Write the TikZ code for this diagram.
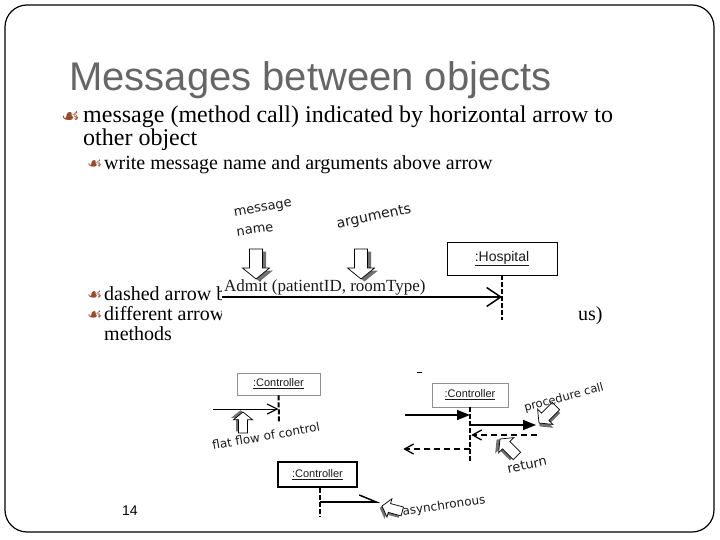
\documentclass[tikz,border=0pt]{standalone}
\usepackage{fontspec}
\setmainfont{Liberation Serif}
\newfontfamily\arialfont{Liberation Sans}
\newfontfamily\symfont{DejaVu Sans}
\usetikzlibrary{arrows.meta,positioning,calc}

\definecolor{titlegray}{HTML}{666666}
\definecolor{bulletbrown}{HTML}{9A4A2E}
\definecolor{boxgray}{HTML}{909090}
\definecolor{shadegray}{HTML}{707070}
\definecolor{inkgray}{HTML}{1A1A1A}

\tikzset{
  dtitle/.style={anchor=base west, inner sep=0pt, text=titlegray, font=\arialfont\fontsize{40}{40}\selectfont},
  dbody/.style={anchor=base west, inner sep=0pt, font=\fontsize{24}{24}\selectfont},
  dsub/.style={anchor=base west, inner sep=0pt, font=\fontsize{20}{20}\selectfont},
  dbullet/.style={anchor=base west, inner sep=0pt, text=bulletbrown, font=\symfont\fontsize{21}{21}\selectfont},
  dsubbullet/.style={dbullet, font=\symfont\fontsize{17}{17}\selectfont},
  dobj/.style={draw=boxgray, line width=0.8pt, fill=white, inner sep=0pt, text=inkgray, font=\arialfont\fontsize{11}{11}\selectfont},
  dobjthick/.style={dobj, draw=black, line width=2.6pt},
  dlife/.style={line width=2.2pt, dash pattern=on 5pt off 2pt},
  dcall/.style={line width=1.2pt, -{Straight Barb[length=14pt, width=19pt, line width=1.5pt]}},
  dflat/.style={line width=1pt, -{Straight Barb[length=10pt, width=10pt, line width=1.2pt]}},
  dproc/.style={line width=1.5pt, -{Triangle[length=13pt, width=10pt]}},
  dreturn/.style={line width=1.3pt, dash pattern=on 6pt off 4pt, -{Straight Barb[length=9pt, width=10pt, line width=1.3pt, sep]}},
  dasync/.style={line width=1.3pt, -{Straight Barb[left, length=17pt, width=14pt, line width=1.5pt]}},
  dhand/.style={inner sep=0pt, text=inkgray, font=\symfont\fontsize{13}{13}\selectfont},
  pics/hollowarr/.style={code={
    \fill[shadegray, shift={(3.5,2.5)}] (-6.5,-30) -- (6.5,-30) -- (6.5,-11) -- (13.5,-11) -- (0,0) -- (-13.5,-11) -- (-6.5,-11) -- cycle;
    \draw[fill=white, line width=0.7pt] (-6.5,-30) -- (6.5,-30) -- (6.5,-11) -- (13.5,-11) -- (0,0) -- (-13.5,-11) -- (-6.5,-11) -- cycle;
  }}
}

\begin{document}
\begin{tikzpicture}[x=1pt,y=-1pt]
\useasboundingbox (0,0) rectangle (720,540);
\draw[line width=1.2pt, rounded corners=22pt] (5,5) rectangle (714,532);

% slide text
\node[dtitle] (title) at (69,91) {Messages between objects};
\node[dbullet] (b1) at (61,124) {☙};
\node[dbody] (t1) at (83,123) {message (method call) indicated by horizontal arrow to};
\node[dbody] (t1b) at (83,146) {other object};
\node[dsubbullet] (b2) at (87,170) {☙};
\node[dsub] (t2) at (104,170) {write message name and arguments above arrow};
\node[dsubbullet] (b3) at (87,300) {☙};
\node[dsub] (t3) at (104,300) {dashed arrow b};
\node[dsubbullet] (b4) at (87,320) {☙};
\node[dsub] (t4) at (104,320) {different arrow};
\node[dsub] (t4b) at (104,340) {methods};
\node[dsub] (t4c) at (578,320) {us)};
\node[anchor=base west, inner sep=0pt, font=\arialfont\fontsize{14}{14}\selectfont] (pagenum) at (122,515) {14};

% first picture: message with name and arguments
\fill[white] (222,195) rectangle (576,335);
\node[dobj, draw=black, minimum width=110pt, minimum height=33pt, font=\arialfont\fontsize{14}{14}\selectfont] (hosp) at (502,258.5) {\underline{:Hospital}};
\coordinate (hospend) at (502,320);
\draw[dlife] (hosp.south) -- (hospend);
\coordinate (admitsrc) at (222,297);
\draw[dcall] (admitsrc) -- (admitsrc -| hosp.south);
\node[anchor=base west, inner sep=0pt, font=\fontsize{17}{17}\selectfont, text=inkgray] (admit) at (224,291) {Admit (patientID, roomType)};
\pic at (256,279) {hollowarr};
\pic at (361,279) {hollowarr};
\node[dhand, rotate=10] (msgword) at (263,209) {message};
\node[dhand, rotate=8] (nameword) at (255,230) {name};
\node[dhand, font=\symfont\fontsize{14}{14}\selectfont, rotate=12] (argword) at (374,217) {arguments};

% second picture: kinds of arrows
\node[dobj, minimum width=83pt, minimum height=22pt] (ctrlA) at (278.5,384) {\underline{:Controller}};
\coordinate (ctrlAend) at (279,422);
\draw[dlife, line width=2pt] (ctrlA.south) -- (ctrlAend);
\coordinate (flatsrc) at (213,409);
\draw[dflat] (flatsrc) -- (flatsrc -| ctrlA.south);
\pic[scale=0.7, rotate=180] at (243,412) {hollowarr};
\node[dhand, font=\symfont\fontsize{12}{12}\selectfont, rotate=10] (flatword) at (266,436) {flat flow of control};

\node[dobj, minimum width=76pt, minimum height=24pt] (ctrlB) at (470,395) {\underline{:Controller}};
\coordinate (ctrlBend) at (470,462);
\draw[dlife, line width=2pt] (ctrlB.south) -- (ctrlBend);
\coordinate (procin) at (405,415);
\coordinate (procout) at (536,425);
\coordinate (retin) at (537,435);
\coordinate (retout) at (402,449);
\draw[dproc] (procin) -- (procin -| ctrlB.south);
\draw[dproc] (procout -| ctrlB.south) -- (procout);
\draw[dreturn] (retin) -- (retin -| ctrlB.south);
\draw[dreturn] (retout -| ctrlB.south) -- (retout);
\pic[scale=0.8, rotate=-45] at (539,423) {hollowarr};
\pic[scale=0.8, rotate=-135] at (500,439) {hollowarr};
\node[dhand, font=\symfont\fontsize{11.5}{11.5}\selectfont, rotate=15] (procword) at (564,398) {procedure call};
\node[dhand, rotate=12] (retword) at (527,465) {return};
\draw[line width=1pt] (417,372) -- (422,372);

\node[dobjthick, minimum width=79pt, minimum height=25pt] (ctrlC) at (317.5,474.5) {\underline{:Controller}};
\coordinate (ctrlCend) at (320,517);
\draw[dlife, line width=2pt] (ctrlC.south -| ctrlCend) -- (ctrlCend);
\coordinate (asyncend) at (380,502);
\draw[dasync] (asyncend -| ctrlCend) -- (asyncend);
\pic[scale=0.7, rotate=-105] at (382,506) {hollowarr};
\node[dhand, font=\symfont\fontsize{12}{12}\selectfont, rotate=8] (asyncword) at (444,506) {asynchronous};
\end{tikzpicture}
\end{document}
